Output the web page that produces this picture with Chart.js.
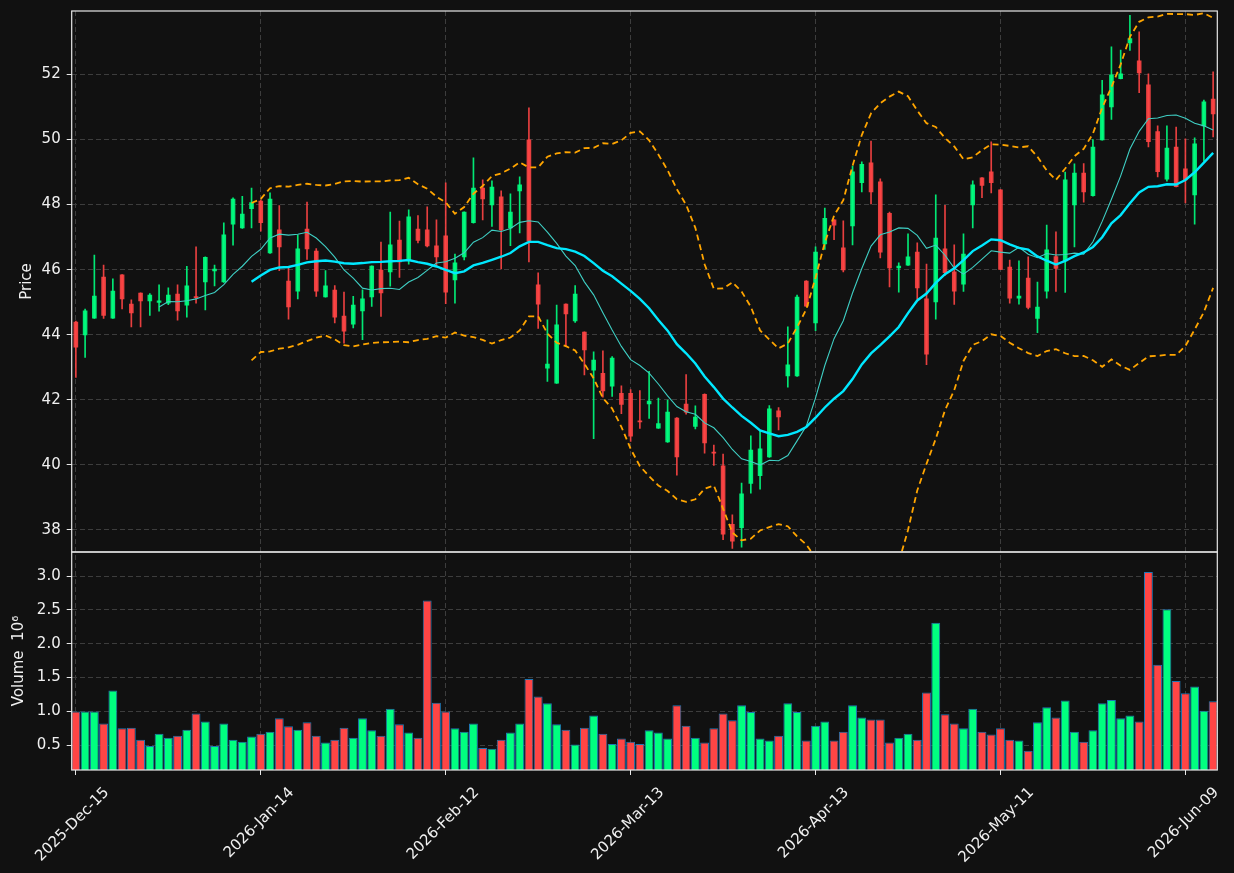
<!DOCTYPE html>
<html>
<head>
<meta charset="utf-8">
<script src="https://cdn.jsdelivr.net/npm/chart.js@4.4.1/dist/chart.umd.min.js"></script>
<style>
html,body{margin:0;padding:0;background:#111111;}
canvas{display:block;}
</style>
</head>
<body>
<canvas id="c" width="1234" height="873"></canvas>
<script>
// ---- data ----
const xTickLabels = ['2025-Dec-15','2026-Jan-14','2026-Feb-12','2026-Mar-13','2026-Apr-13','2026-May-11','2026-Jun-09'];
const priceTicks = [38,40,42,44,46,48,50,52];
const volumeTicks = [0.5,1.0,1.5,2.0,2.5,3.0];

const opens = [44.40,43.98,44.50,45.78,44.50,45.85,44.95,45.29,45.03,44.98,44.96,45.26,44.90,45.18,45.61,45.95,45.61,47.39,47.27,47.86,
48.12,46.50,47.23,45.66,45.33,47.26,46.58,45.15,45.38,44.58,44.31,44.72,45.15,46.00,45.92,46.92,46.29,47.26,47.23,46.74,
47.05,45.67,46.38,47.43,48.52,47.98,48.25,47.27,48.41,50.00,45.54,42.96,42.50,44.95,44.41,44.09,42.90,42.82,42.41,42.21,
42.21,41.36,41.86,41.12,40.69,41.45,41.88,41.17,42.18,40.40,39.98,38.18,38.06,39.42,39.66,40.23,41.67,42.72,42.72,45.66,
44.35,46.78,47.54,46.68,47.33,48.66,49.29,48.71,47.74,46.04,46.13,46.55,45.11,45.00,46.65,45.94,45.54,47.98,48.83,49.02,
48.46,46.09,45.11,45.75,44.49,45.33,46.41,46.26,47.98,48.98,48.26,49.98,50.99,51.86,52.96,52.43,51.69,50.25,48.77,49.78,
49.11,48.29,50.41,51.25];
const highs = [44.42,44.79,46.45,46.14,45.72,45.85,45.07,45.29,45.26,45.53,45.44,45.53,46.10,46.70,46.39,46.14,47.44,48.21,48.25,48.51,
48.14,48.36,47.97,46.04,47.06,48.08,46.65,45.97,45.51,45.31,45.18,45.38,46.12,46.85,47.77,47.49,47.84,47.66,47.93,47.53,
48.67,46.48,47.78,49.44,48.76,48.73,48.42,48.33,48.85,50.97,45.90,44.46,44.91,44.95,45.51,44.09,43.47,43.50,43.33,42.43,
42.31,42.28,42.87,42.05,41.99,41.45,42.77,41.81,42.18,40.61,40.33,38.46,39.44,40.89,41.03,41.82,41.76,44.24,45.22,45.66,
46.70,47.89,47.54,47.50,49.18,49.31,49.95,48.79,47.77,46.21,47.10,46.82,46.17,48.30,47.98,46.76,47.10,48.73,48.83,49.93,
48.46,46.29,46.27,46.39,45.62,47.37,47.16,49.00,49.25,49.26,50.00,51.82,52.85,52.75,53.82,53.31,52.02,50.42,50.42,50.38,
50.02,50.05,51.21,52.08];
const lows = [42.69,43.30,44.50,44.50,44.50,44.79,44.24,44.24,44.59,44.72,44.92,44.45,44.54,44.97,44.76,45.50,45.61,46.75,47.27,47.28,
47.18,46.50,45.97,44.48,45.10,46.31,45.18,45.15,44.36,43.74,44.21,43.85,44.87,44.56,45.49,45.76,46.17,46.82,46.70,46.10,
44.95,44.97,46.30,47.43,47.53,47.33,46.02,46.74,47.13,46.24,44.19,42.56,42.50,43.64,44.38,42.76,40.80,42.08,42.10,41.57,
40.72,41.12,41.43,41.12,40.69,39.68,41.56,41.10,40.36,39.98,37.70,37.43,37.47,39.13,39.25,40.23,41.07,42.39,42.72,44.87,
44.12,46.62,46.92,45.93,46.76,48.39,48.02,46.36,45.47,45.31,46.13,45.10,43.08,44.48,45.82,44.93,45.33,47.28,48.21,48.36,
46.00,44.97,44.94,44.79,44.06,45.12,45.33,45.30,46.70,48.07,48.26,49.98,50.62,51.86,52.74,51.44,49.77,48.85,48.72,48.54,
48.05,47.40,49.33,50.08];
const closes = [43.61,44.74,45.20,44.58,45.35,45.09,44.66,45.03,45.23,45.05,45.23,44.72,45.51,45.13,46.39,46.03,47.08,48.18,47.72,48.07,
47.43,48.18,46.69,44.84,46.65,46.63,45.33,45.51,44.53,44.10,44.92,45.11,46.12,45.27,46.77,46.23,47.63,46.89,46.72,46.38,
45.30,46.22,47.78,48.52,48.16,48.55,47.21,47.78,48.62,46.87,44.93,43.11,44.31,44.63,45.26,43.52,43.23,42.26,43.29,41.85,
40.87,41.31,41.97,41.28,41.63,40.23,41.61,41.48,40.66,40.35,37.86,37.64,39.12,40.46,40.50,41.73,41.46,43.08,45.17,44.87,
46.55,47.59,47.36,45.98,49.02,49.25,48.38,46.53,46.04,46.12,46.40,45.43,43.39,46.98,45.90,45.33,46.49,48.62,48.58,48.66,
46.00,45.11,45.20,44.83,44.86,46.62,46.03,48.77,48.98,48.38,49.78,51.38,52.00,52.03,53.11,52.04,49.92,49.00,49.75,48.54,
48.75,49.88,51.17,50.78];
const volumes = [1.00,1.00,1.00,0.82,1.31,0.75,0.76,0.58,0.49,0.67,0.61,0.64,0.73,0.97,0.85,0.49,0.82,0.58,0.55,0.63,
0.67,0.70,0.90,0.78,0.73,0.84,0.64,0.54,0.58,0.76,0.61,0.90,0.72,0.64,1.04,0.81,0.69,0.61,2.64,1.13,
1.00,0.75,0.70,0.82,0.46,0.45,0.58,0.69,0.82,1.48,1.22,1.12,0.81,0.73,0.51,0.76,0.94,0.67,0.52,0.60,
0.55,0.52,0.72,0.69,0.60,1.09,0.79,0.61,0.54,0.75,0.97,0.87,1.09,0.99,0.60,0.57,0.64,1.12,0.99,0.57,
0.79,0.85,0.57,0.70,1.09,0.91,0.88,0.88,0.54,0.61,0.67,0.58,1.28,2.31,0.96,0.82,0.75,1.04,0.70,0.66,
0.75,0.58,0.57,0.42,0.84,1.06,0.91,1.16,0.70,0.55,0.72,1.12,1.17,0.90,0.94,0.85,3.06,1.69,2.51,1.45,
1.27,1.37,1.01,1.15];

// ---- derived studies (as the original chart computes them from closes) ----
function sma(arr, n) {
  return arr.map((_, i) => {
    if (i < n - 1) return null;
    let s = 0; for (let k = i - n + 1; k <= i; k++) s += arr[k];
    return s / n;
  });
}
function bollinger(arr, n, m) {
  const mid = sma(arr, n);
  const upper = [], lower = [];
  arr.forEach((_, i) => {
    if (mid[i] === null) { upper.push(null); lower.push(null); return; }
    let v = 0; for (let k = i - n + 1; k <= i; k++) v += (arr[k] - mid[i]) ** 2;
    const sd = Math.sqrt(v / n);
    upper.push(mid[i] + m * sd); lower.push(mid[i] - m * sd);
  });
  return {upper, lower};
}
const ma10 = sma(closes, 10);
const ma20 = sma(closes, 20);
const bb = bollinger(closes, 20, 2);

// ---- styling ----
const FONT = 'DejaVu Sans';
const TXT = '#f0f0f0';
const GRID = '#3d3d3d';
const SPINE = '#e8e8e8';
const candleUp = 'rgba(0,255,128,0.9)', candleDn = 'rgba(255,69,69,0.9)';
const volUp = '#00ff80', volDn = '#ff4545';
const isUp = closes.map((c, i) => c >= opens[i]);
const pts = arr => arr.map((v, i) => ({x: i, y: v}));

const framePlugin = {
  id: 'frame',
  beforeDatasetDraw(chart, args) {
    const ds = chart.data.datasets[args.index];
    if (ds.yAxisID === 'yP') {
      const a = chart.chartArea, s = chart.scales.yP, c = chart.ctx;
      c.save(); c.beginPath(); c.rect(a.left, s.top, a.right - a.left, s.bottom - s.top); c.clip();
    }
  },
  afterDatasetDraw(chart, args) {
    const ds = chart.data.datasets[args.index];
    if (ds.yAxisID === 'yP') chart.ctx.restore();
  },
  afterDatasetsDraw(chart) {
    const a = chart.chartArea, c = chart.ctx;
    c.save();
    c.strokeStyle = SPINE; c.lineWidth = 1.2;
    ['yP', 'yV'].forEach(id => {
      const s = chart.scales[id];
      c.strokeRect(a.left, s.top, a.right - a.left, s.bottom - s.top);
    });
    c.restore();
  }
};

const tickFont = {family: FONT, size: 15};
const noPad = s => { s.paddingTop = 0; s.paddingBottom = 0; s.paddingLeft = 0; s.paddingRight = 0; };

new Chart(document.getElementById('c').getContext('2d'), {
  type: 'bar',
  data: {
    datasets: [
      {type: 'line', label: 'MA20', data: pts(ma20), yAxisID: 'yP', xAxisID: 'x',
        borderColor: '#00e8ff', borderWidth: 2.4, pointRadius: 0, tension: 0, order: 0},
      {type: 'line', label: 'MA10', data: pts(ma10), yAxisID: 'yP', xAxisID: 'x',
        borderColor: '#3fcfc4', borderWidth: 1.1, pointRadius: 0, tension: 0, order: 1},
      {type: 'line', label: 'BB upper', data: pts(bb.upper), yAxisID: 'yP', xAxisID: 'x',
        borderColor: '#ffa500', borderWidth: 1.8, borderDash: [6, 4], pointRadius: 0, tension: 0, order: 2},
      {type: 'line', label: 'BB lower', data: pts(bb.lower), yAxisID: 'yP', xAxisID: 'x',
        borderColor: '#ffa500', borderWidth: 1.8, borderDash: [6, 4], pointRadius: 0, tension: 0, order: 3},
      {type: 'bar', label: 'Body', data: opens.map((o, i) => ({x: i, y: [o, closes[i]]})), yAxisID: 'yP', xAxisID: 'x',
        backgroundColor: isUp.map(u => u ? candleUp : candleDn), borderWidth: 0, grouped: false,
        barPercentage: 0.5, categoryPercentage: 1, minBarLength: 1, order: 4},
      {type: 'bar', label: 'Wick', data: lows.map((l, i) => ({x: i, y: [l, highs[i]]})), yAxisID: 'yP', xAxisID: 'x',
        backgroundColor: isUp.map(u => u ? candleUp : candleDn), borderWidth: 0, grouped: false,
        barThickness: 1, order: 5},
      {type: 'bar', label: 'Volume', data: volumes.map((v, i) => ({x: i, y: v})), yAxisID: 'yV', xAxisID: 'x',
        backgroundColor: isUp.map(u => u ? volUp : volDn), borderColor: '#1f77b4', borderWidth: 1, borderSkipped: false,
        grouped: false, barPercentage: 0.96, categoryPercentage: 1, order: 6}
    ]
  },
  options: {
    responsive: false,
    devicePixelRatio: 1,
    animation: false,
    layout: {padding: {left: 0, right: 16.7, top: 11, bottom: 0}},
    plugins: {legend: {display: false}, tooltip: {enabled: false}},
    scales: {
      x: {
        type: 'linear', position: 'bottom', min: -0.45, max: 123.45, offset: false,
        afterBuildTicks: s => { s.ticks = xTickLabels.map((_, k) => ({value: k * 20})); },
        afterFit: s => { s.height = 103; noPad(s); },
        ticks: {
          callback: v => xTickLabels[Math.round(v / 20)] || '',
          autoSkip: false, minRotation: 45, maxRotation: 45,
          color: TXT, font: tickFont, padding: 9, labelOffset: 31
        },
        grid: {color: GRID, lineWidth: 1, offset: false, drawTicks: true, tickLength: 5, tickColor: SPINE, tickWidth: 1, tickBorderDash: []},
        border: {display: false, dash: [5, 3]}
      },
      yP: {
        type: 'linear', position: 'left', stack: 'panels', stackWeight: 541, weight: 2,
        min: 37.32, max: 53.95,
        afterBuildTicks: s => { s.ticks = priceTicks.map(v => ({value: v})); },
        afterFit: s => { s.width = 71.7; noPad(s); },
        ticks: {color: TXT, font: tickFont, padding: 6, callback: v => String(v)},
        grid: {color: GRID, lineWidth: 1, tickLength: 5, tickColor: SPINE, tickWidth: 1, tickBorderDash: []},
        border: {display: false, dash: [5, 3]},
        title: {display: true, text: 'Price', color: TXT, font: {family: FONT, size: 15}, padding: {top: 18, bottom: 0}}
      },
      yV: {
        type: 'linear', position: 'left', stack: 'panels', stackWeight: 218, weight: 1,
        min: 0.134, max: 3.357,
        afterBuildTicks: s => { s.ticks = volumeTicks.map(v => ({value: v})); },
        afterFit: s => { s.width = 71.7; noPad(s); },
        ticks: {color: TXT, font: tickFont, padding: 6, callback: v => v.toFixed(1)},
        grid: {color: GRID, lineWidth: 1, tickLength: 5, tickColor: SPINE, tickWidth: 1, tickBorderDash: []},
        border: {display: false, dash: [5, 3]},
        title: {display: true, text: 'Volume  10\u2076', color: TXT, font: {family: FONT, size: 15}, padding: {top: 10, bottom: 0}}
      }
    }
  },
  plugins: [framePlugin]
});
</script>
</body>
</html>
